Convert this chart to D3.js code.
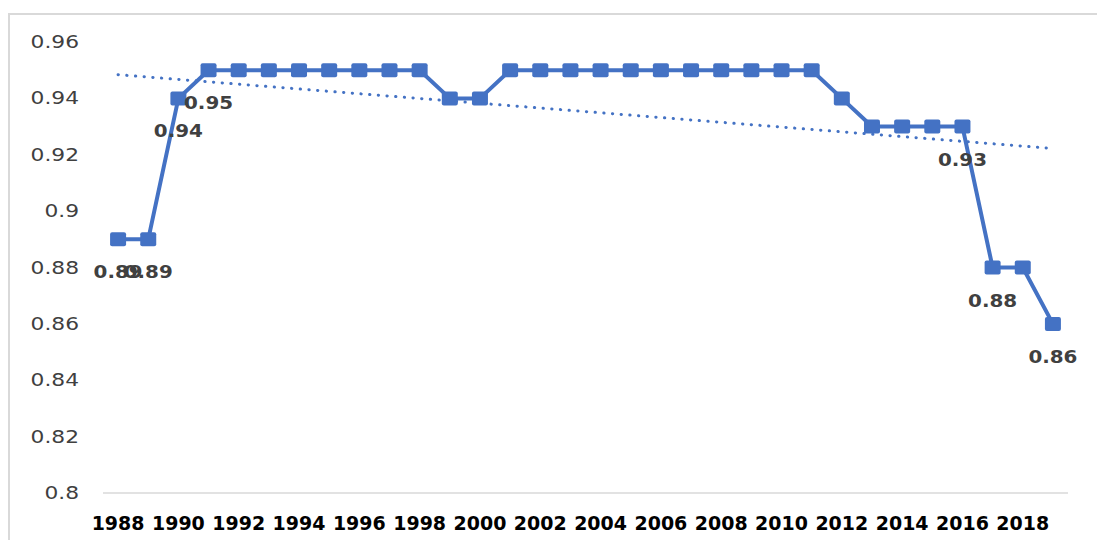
<!DOCTYPE html>
<html>
<head>
<meta charset="utf-8">
<script src="https://cdn.jsdelivr.net/npm/d3@7"></script>
<style>
  html, body { margin: 0; padding: 0; background: #fff; }
  svg { display: block; }
</style>
</head>
<body>
<svg id="chart" width="1097" height="540"></svg>
<script>
// Annual index values, 1988–2019
const years = d3.range(1988, 2020);
const values = [
  0.89, 0.89, 0.94, 0.95, 0.95, 0.95, 0.95, 0.95, 0.95, 0.95,
  0.95, 0.94, 0.94, 0.95, 0.95, 0.95, 0.95, 0.95, 0.95, 0.95,
  0.95, 0.95, 0.95, 0.95, 0.94, 0.93, 0.93, 0.93, 0.93, 0.88,
  0.88, 0.86
];
// Years whose value is printed beside the marker
const labelledYears = [1988, 1989, 1990, 1991, 2016, 2017, 2019];
const yTicks = [0.8, 0.82, 0.84, 0.86, 0.88, 0.9, 0.92, 0.94, 0.96];
const xTickYears = years.filter(y => y % 2 === 0);

const data = years.map((yr, i) => ({ year: yr, value: values[i] }));

const svg = d3.select("#chart");
const blue = "#4472C4";

// Chart frame
svg.append("rect")
  .attr("x", 9).attr("y", 14)
  .attr("width", 1200).attr("height", 700)
  .attr("fill", "#fff")
  .attr("stroke", "#d9d9d9").attr("stroke-width", 2);

const x = d3.scaleBand().domain(years).range([103, 1068]);
const cx = d => x(d) + x.bandwidth() / 2;
const y = d3.scaleLinear().domain([0.8, 0.96]).range([493, 42]);

// Horizontal-stretched text helper
function stretchedText(parent, px, py, str, opts) {
  const g = parent.append("g")
    .attr("transform", `translate(${px},${py}) scale(${opts.sx},1)`);
  g.append("text")
    .attr("x", 0).attr("y", 0)
    .attr("text-anchor", opts.anchor)
    .attr("font-family", "DejaVu Sans, Verdana, sans-serif")
    .attr("font-size", opts.size)
    .attr("font-weight", opts.weight || "normal")
    .attr("fill", opts.fill)
    .text(str);
  return g;
}

// Y axis labels
const yAxisG = svg.append("g");
yTicks.forEach(t => {
  stretchedText(yAxisG, 79, y(t) + 6, d3.format("")(+t.toFixed(2)),
    { sx: 1.28, anchor: "end", size: 17, fill: "#404040" });
});

// Baseline
svg.append("line")
  .attr("x1", 103).attr("x2", 1068)
  .attr("y1", y(0.8)).attr("y2", y(0.8))
  .attr("stroke", "#d9d9d9").attr("stroke-width", 1.5);

// X axis labels
const xAxisG = svg.append("g");
xTickYears.forEach(yr => {
  stretchedText(xAxisG, cx(yr), 530, String(yr),
    { sx: 0.95, anchor: "middle", size: 20, weight: "bold", fill: "#000" });
});

// Series line
const line = d3.line().x(d => cx(d.year)).y(d => y(d.value));
svg.append("path")
  .datum(data)
  .attr("d", line)
  .attr("fill", "none")
  .attr("stroke", blue)
  .attr("stroke-width", 4)
  .attr("stroke-linejoin", "round");

// Square markers
svg.append("g").selectAll("rect")
  .data(data)
  .join("rect")
  .attr("x", d => cx(d.year) - 8)
  .attr("y", d => y(d.value) - 7)
  .attr("width", 16).attr("height", 14)
  .attr("rx", 2)
  .attr("fill", blue);

// Linear trend (least squares over the series)
const n = data.length;
const idx = d3.range(n);
const mx = d3.mean(idx), my = d3.mean(values);
const slope = d3.sum(idx, i => (i - mx) * (values[i] - my)) /
              d3.sum(idx, i => (i - mx) * (i - mx));
const intercept = my - slope * mx;
const trend = [
  { year: years[0], value: intercept },
  { year: years[n - 1], value: intercept + slope * (n - 1) }
];
svg.append("path")
  .datum(trend)
  .attr("d", line)
  .attr("fill", "none")
  .attr("stroke", blue)
  .attr("stroke-width", 3)
  .attr("stroke-linecap", "round")
  .attr("stroke-dasharray", "0.3,8.4");

// Data labels below markers
const labelG = svg.append("g");
data.filter(d => labelledYears.includes(d.year)).forEach(d => {
  stretchedText(labelG, cx(d.year), y(d.value) + 39, d.value.toFixed(2),
    { sx: 1.17, anchor: "middle", size: 17, weight: "bold", fill: "#404040" });
});
</script>
</body>
</html>
